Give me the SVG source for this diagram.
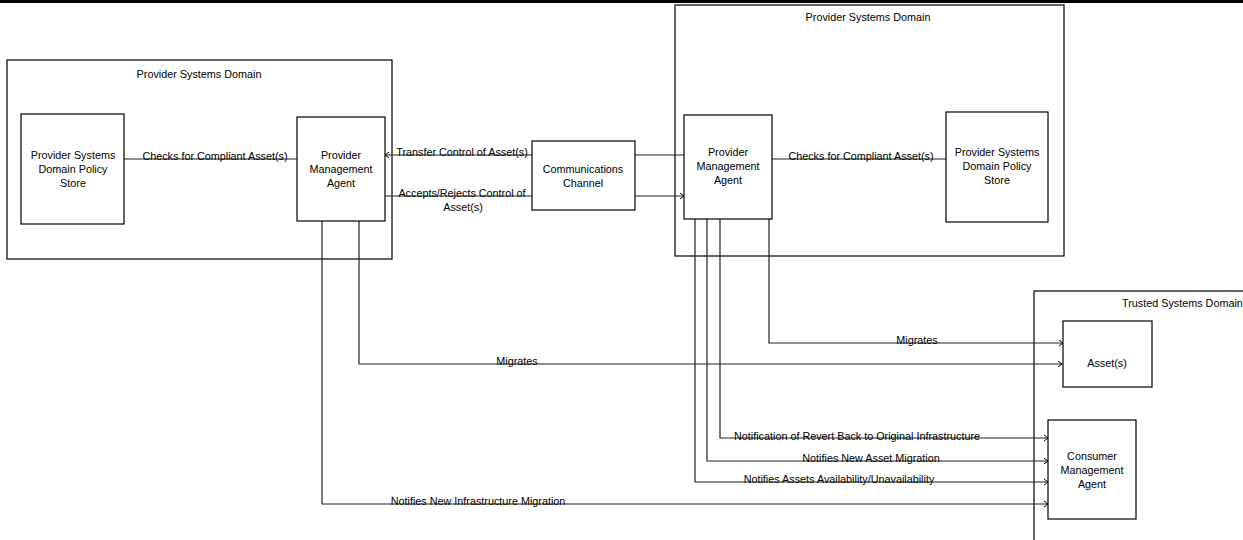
<svg xmlns="http://www.w3.org/2000/svg" width="1243" height="540" viewBox="0 0 1243 540">
<style>
.box{fill:#fff;stroke:#000;stroke-width:1.2}
.dom{fill:none;stroke:#000;stroke-width:1.2}
.t{font-family:"Liberation Sans",Arial,sans-serif;font-size:10.8px;fill:#000;text-anchor:middle}
.c{fill:none;stroke:#222;stroke-width:1.2}
.l{font-family:"Liberation Sans",Arial,sans-serif;font-size:10.8px;fill:#000;text-anchor:middle}
</style>
<defs>
<marker id="arr" markerUnits="userSpaceOnUse" markerWidth="8" markerHeight="8" refX="5" refY="4" orient="auto">
<path d="M1,1 L5,4 L1,7" fill="none" stroke="#000" stroke-width="1"/>
</marker>
</defs>
<rect x="0" y="0" width="1243" height="3" fill="#000"/>
<rect x="330" y="0" width="12" height="2" fill="#000"/>
<g id="domain-left">
<rect class="dom" x="7" y="60" width="385" height="199"/>
<text class="t" x="199" y="78">Provider Systems Domain</text>
</g>
<g id="domain-right">
<rect class="dom" x="675" y="5" width="389" height="251"/>
<text class="t" x="868" y="21">Provider Systems Domain</text>
</g>
<g id="domain-trusted">
<rect class="dom" x="1034" y="291" width="300" height="300"/>
<text class="t" x="1122" y="307" style="text-anchor:start">Trusted Systems Domain</text>
</g>
<g id="connectors">
<line class="c" x1="124" y1="159" x2="297" y2="159"/>
<line class="c" x1="532" y1="155" x2="385" y2="155" marker-end="url(#arr)"/>
<line class="c" x1="684" y1="155" x2="635" y2="155"/>
<line class="c" x1="385" y1="196" x2="532" y2="196"/>
<line class="c" x1="635" y1="196" x2="684" y2="196" marker-end="url(#arr)"/>
<line class="c" x1="772" y1="159" x2="946" y2="159"/>
<path class="c" d="M359,221 V364 H1062" marker-end="url(#arr)"/>
<path class="c" d="M769,219 V343 H1063" marker-end="url(#arr)"/>
<path class="c" d="M720,219 V438 H1048" marker-end="url(#arr)"/>
<path class="c" d="M707,219 V461 H1048" marker-end="url(#arr)"/>
<path class="c" d="M695,219 V482 H1048" marker-end="url(#arr)"/>
<path class="c" d="M322,221 V504 H1048" marker-end="url(#arr)"/>
<text class="l" x="215" y="160">Checks for Compliant Asset(s)</text>
<text class="l" x="462" y="156">Transfer Control of Asset(s)</text>
<text class="l" x="462" y="197">Accepts/Rejects Control of</text>
<text class="l" x="463" y="211">Asset(s)</text>
<text class="l" x="861" y="160">Checks for Compliant Asset(s)</text>
<text class="l" x="517" y="365">Migrates</text>
<text class="l" x="917" y="344">Migrates</text>
<text class="l" x="857" y="440">Notification of Revert Back to Original Infrastructure</text>
<text class="l" x="871" y="462">Notifies New Asset Migration</text>
<text class="l" x="839" y="483">Notifies Assets Availability/Unavailability</text>
<text class="l" x="478" y="505">Notifies New Infrastructure Migration</text>
</g>
<g id="policy-left">
<rect class="box" x="21" y="114" width="103" height="110"/>
<text class="t" x="73" y="159">Provider Systems</text>
<text class="t" x="73" y="173">Domain Policy</text>
<text class="t" x="73" y="187">Store</text>
</g>
<g id="pma-left">
<rect class="box" x="297" y="117" width="88" height="104"/>
<text class="t" x="341" y="159">Provider</text>
<text class="t" x="341" y="173">Management</text>
<text class="t" x="341" y="187">Agent</text>
</g>
<g id="comm-channel">
<rect class="box" x="532" y="141" width="103" height="69"/>
<text class="t" x="583" y="173">Communications</text>
<text class="t" x="583" y="187">Channel</text>
</g>
<g id="pma-right">
<rect class="box" x="684" y="115" width="88" height="104"/>
<text class="t" x="728" y="156">Provider</text>
<text class="t" x="728" y="170">Management</text>
<text class="t" x="728" y="184">Agent</text>
</g>
<g id="policy-right">
<rect class="box" x="946" y="112" width="102" height="110"/>
<text class="t" x="997" y="156">Provider Systems</text>
<text class="t" x="997" y="170">Domain Policy</text>
<text class="t" x="997" y="184">Store</text>
</g>
<g id="assets">
<rect class="box" x="1063" y="321" width="89" height="66"/>
<text class="t" x="1107" y="367">Asset(s)</text>
</g>
<g id="consumer-agent">
<rect class="box" x="1048" y="420" width="88" height="99"/>
<text class="t" x="1092" y="460">Consumer</text>
<text class="t" x="1092" y="474">Management</text>
<text class="t" x="1092" y="488">Agent</text>
</g>
</svg>
